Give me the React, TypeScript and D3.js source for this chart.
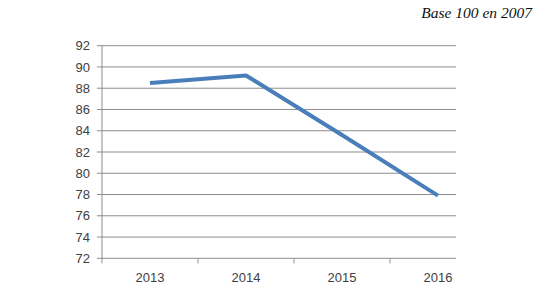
import React from "react";
import * as d3 from "d3";

const categories = ["2013", "2014", "2015", "2016"];
const values = [88.5, 89.2, 83.6, 77.9];
const yTicks = [72, 74, 76, 78, 80, 82, 84, 86, 88, 90, 92];
const noteText = "Base 100 en 2007";

export default function App() {
  const W = 555, H = 298;
  const left = 102, bandRight = 486, gridRight = 456;
  const top = 45.7, bottom = 258.3;

  const x = d3.scaleBand<string>().domain(categories).range([left, bandRight]).padding(0);
  const y = d3.scaleLinear().domain([72, 92]).range([bottom, top]);

  const line = d3
    .line<number>()
    .x((_, i) => (x(categories[i]) as number) + x.bandwidth() / 2)
    .y((d) => y(d));

  const boundaries = categories.map((c) => x(c) as number);

  return (
    <svg width={W} height={H} style={{ position: "absolute", left: 0, top: 0, background: "#fff" }}>
      <text
        x={532}
        y={17.5}
        textAnchor="end"
        fontFamily="'Liberation Serif', serif"
        fontStyle="italic"
        fontSize={15.5}
        fill="#111"
      >
        {noteText}
      </text>
      {yTicks.map((t) => (
        <g key={t}>
          <line x1={97} x2={gridRight} y1={y(t)} y2={y(t)} stroke="#8c8c8c" strokeWidth={1} />
          <text
            x={90}
            y={y(t)}
            dy="0.35em"
            textAnchor="end"
            fontFamily="'Liberation Sans', sans-serif"
            fontSize={13}
            fill="#404040"
          >
            {t}
          </text>
        </g>
      ))}
      <line x1={left} x2={left} y1={top} y2={bottom} stroke="#8c8c8c" strokeWidth={1} />
      {boundaries.map((b, i) => (
        <line key={i} x1={b} x2={b} y1={bottom} y2={bottom + 5} stroke="#8c8c8c" strokeWidth={1} />
      ))}
      {categories.map((c) => (
        <text
          key={c}
          x={(x(c) as number) + x.bandwidth() / 2}
          y={282}
          textAnchor="middle"
          fontFamily="'Liberation Sans', sans-serif"
          fontSize={13}
          fill="#404040"
        >
          {c}
        </text>
      ))}
      <path
        d={line(values) || ""}
        fill="none"
        stroke="#4a7ebb"
        strokeWidth={4}
        strokeLinejoin="round"
        strokeLinecap="butt"
      />
    </svg>
  );
}
